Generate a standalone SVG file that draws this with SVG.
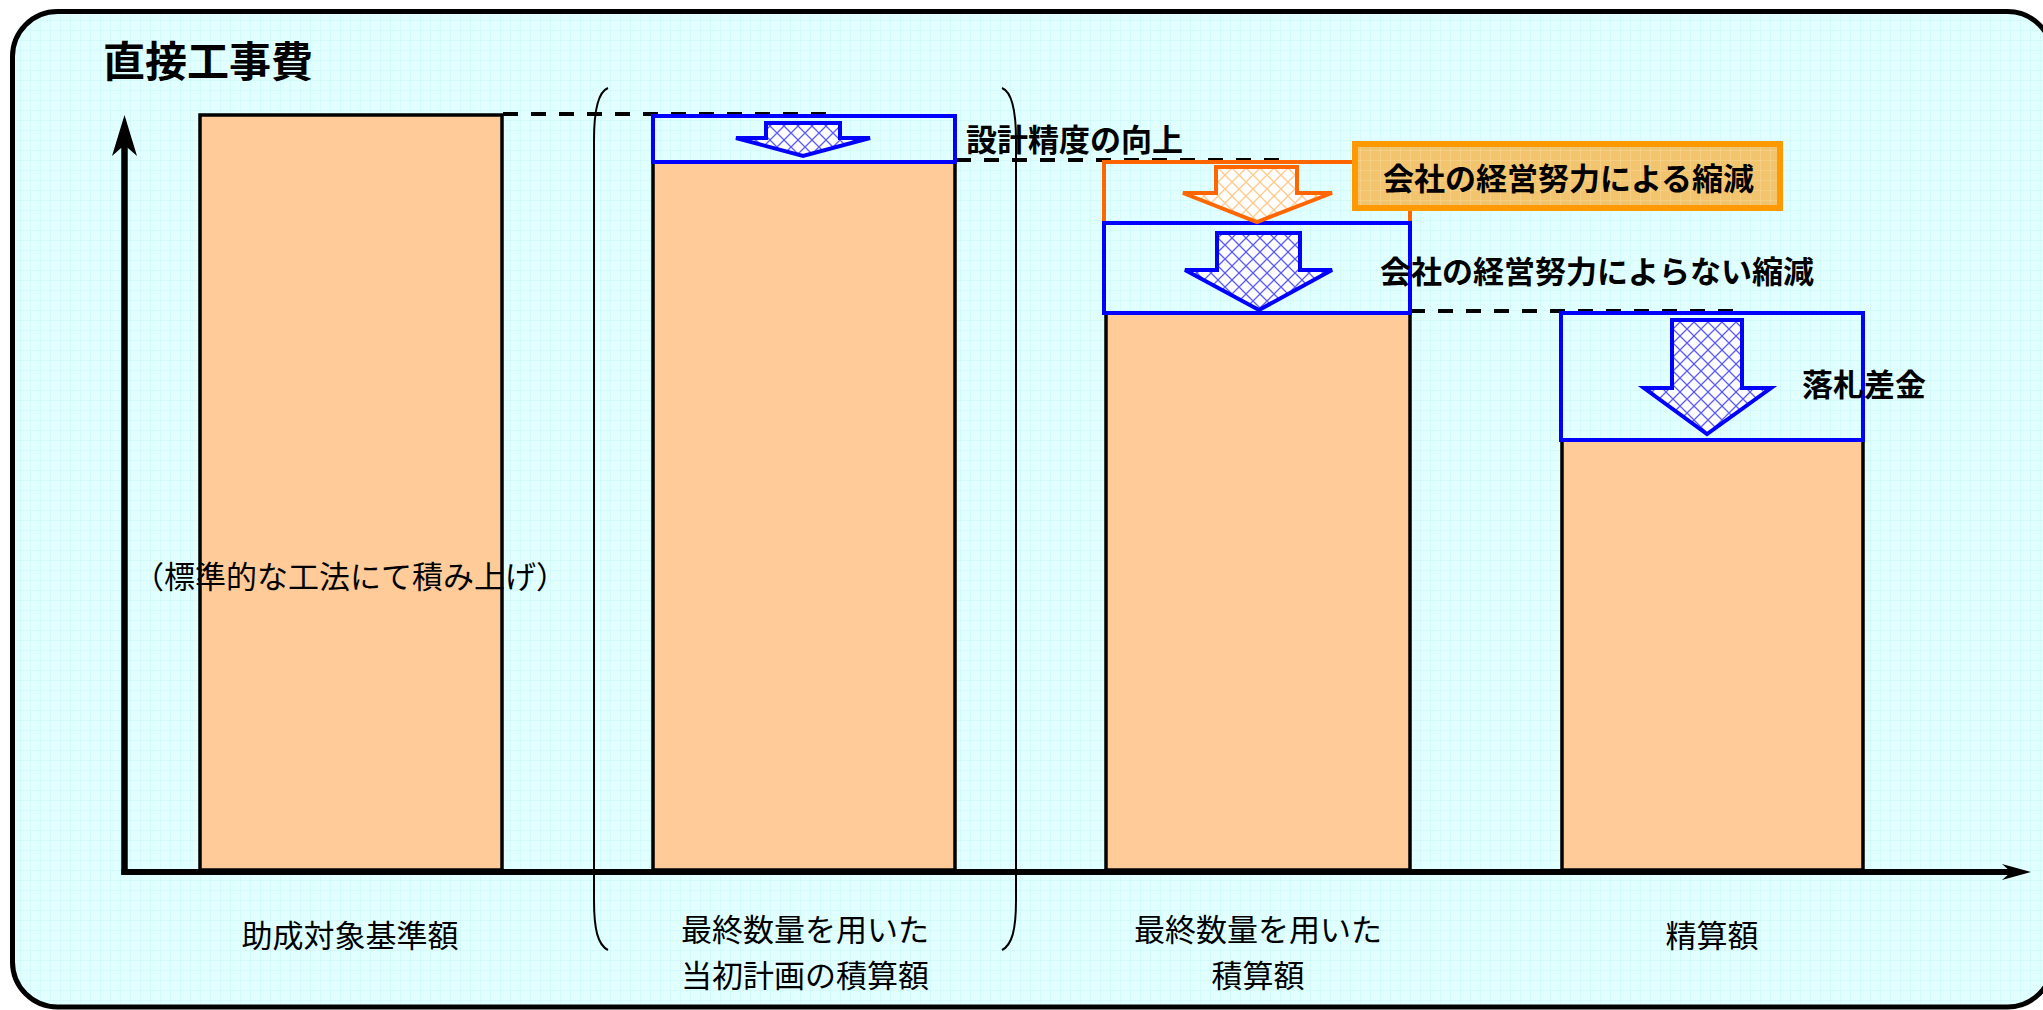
<svg xmlns="http://www.w3.org/2000/svg" width="2043" height="1010" viewBox="0 0 2043 1010">
<style>
.bar{fill:#FFCC99;stroke:#000;stroke-width:3.5}
.bbox{fill:none;stroke:#0000FF;stroke-width:4}
.obox{fill:none;stroke:#FF6600;stroke-width:4}
.barrow{fill:url(#hatchB);stroke:#0000FF;stroke-width:4;stroke-linejoin:miter}
.oarrow{fill:url(#hatchO);stroke:#FF6600;stroke-width:4;stroke-linejoin:miter}
.dash{stroke:#000;stroke-width:4;stroke-dasharray:15 13;fill:none}
.brk{fill:none;stroke:#000;stroke-width:2}
.bold{font-family:"Noto Sans CJK JP","Noto Sans",sans-serif;font-weight:bold;font-size:31px;fill:#000}
.lbl{font-family:"Noto Sans CJK JP","Noto Sans",sans-serif;font-size:31px;fill:#000;text-anchor:middle}
</style>
<defs>
<pattern id="grid" width="10" height="10" patternUnits="userSpaceOnUse">
<rect width="10" height="10" fill="#E2FFFF"/>
<path d="M10 0H0V10" fill="none" stroke="#C6F7F7" stroke-width="1"/>
</pattern>
<pattern id="ogrid" width="10" height="10" patternUnits="userSpaceOnUse">
<rect width="10" height="10" fill="#F3C46E"/>
<path d="M10 0H0V10" fill="none" stroke="#F8D797" stroke-width="1"/>
</pattern>
<pattern id="hatchB" width="14" height="14" patternUnits="userSpaceOnUse">
<rect width="14" height="14" fill="#FFFFFF"/>
<path d="M0 0L14 14M14 0L0 14" stroke="#5A5AFF" stroke-width="1.3"/>
</pattern>
<pattern id="hatchO" width="14" height="14" patternUnits="userSpaceOnUse">
<rect width="14" height="14" fill="#FFFFFF"/>
<path d="M0 0L14 14M14 0L0 14" stroke="#FFC98A" stroke-width="1.3"/>
</pattern>
</defs>

<rect x="0" y="0" width="2043" height="1010" fill="#FFFFFF"/>
<rect id="frame" x="12.5" y="11.5" width="2040" height="995.5" rx="45" ry="45" fill="url(#grid)" stroke="#000" stroke-width="5"/>

<text id="title" x="103" y="77" font-family="'Noto Sans CJK JP','Noto Sans',sans-serif" font-weight="bold" font-size="42">直接工事費</text>

<g id="axes">
<line x1="124.5" y1="875" x2="124.5" y2="140" stroke="#000" stroke-width="6.5"/>
<polygon points="124.5,115 137,156 124.5,145 112,156" fill="#000"/>
<line x1="121.5" y1="872" x2="2012" y2="872" stroke="#000" stroke-width="6"/>
<polygon points="2031,872 2002,864 2011,872 2002,880" fill="#000"/>
</g>

<g id="brackets">
<path class="brk" d="M608,88 C598,92 594,112 594,140 L594,900 C594,930 598,945 608,950"/>
<path class="brk" d="M1002,88 C1012,92 1016,112 1016,140 L1016,900 C1016,930 1012,945 1002,950"/>
</g>

<g id="connectors">
<line class="dash" x1="503" y1="114" x2="828" y2="114"/>
<line class="dash" x1="956" y1="160" x2="1284" y2="160"/>
<line class="dash" x1="1410" y1="311" x2="1733" y2="311"/>
</g>

<g id="bar1">
<rect class="bar" x="200" y="115" width="302" height="755"/>
<text class="lbl" x="350" y="588">（標準的な工法にて積み上げ）</text>
<text class="lbl" x="350" y="947">助成対象基準額</text>
</g>

<g id="bar2">
<rect class="bar" x="653" y="162" width="302" height="708"/>
<rect class="bbox" x="653" y="116" width="302" height="46"/>
<polygon class="barrow" points="766,123 840,123 840,138 870,138 803,156 736,138 766,138"/>
<text class="bold" x="966" y="151">設計精度の向上</text>
<text class="lbl" x="805" y="941">最終数量を用いた<tspan x="805" dy="46">当初計画の積算額</tspan></text>
</g>

<g id="bar3">
<rect class="bar" x="1106" y="313" width="304" height="557"/>
<rect class="obox" x="1104" y="162" width="306" height="61"/>
<rect class="bbox" x="1104" y="223" width="306" height="90"/>
<polygon class="oarrow" points="1216,167 1297,167 1297,193 1332,193 1257,222 1183,193 1216,193"/>
<polygon class="barrow" points="1217,233 1300,233 1300,270 1332,270 1259,310 1185,270 1217,270"/>
<text class="bold" x="1380" y="283">会社の経営努力によらない縮減</text>
<text class="lbl" x="1258" y="941">最終数量を用いた<tspan x="1258" dy="46">積算額</tspan></text>
</g>

<g id="label-effort">
<rect x="1355" y="144" width="425" height="64" fill="url(#ogrid)" stroke="#FF9900" stroke-width="6"/>
<text class="bold" x="1383" y="190">会社の経営努力による縮減</text>
</g>

<g id="bar4">
<rect class="bar" x="1562" y="440" width="301" height="430"/>
<rect class="bbox" x="1561" y="313" width="302" height="127"/>
<polygon class="barrow" points="1672,320 1742,320 1742,388 1771,388 1707,434 1644,388 1672,388"/>
<text class="bold" x="1802" y="396">落札差金</text>
<text class="lbl" x="1712" y="947">精算額</text>
</g>
</svg>
